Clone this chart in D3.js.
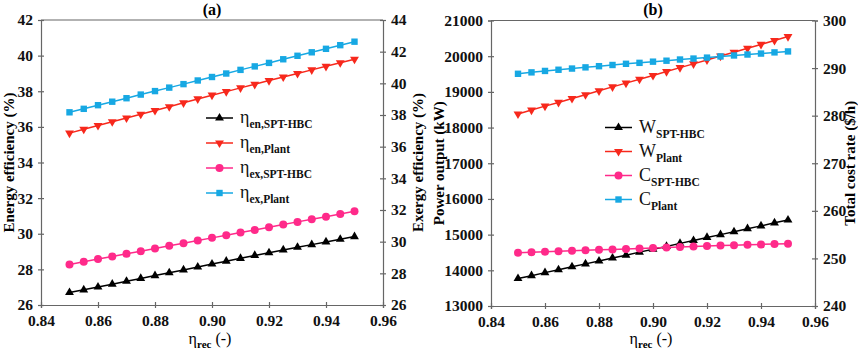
<!DOCTYPE html>
<html>
<head>
<meta charset="utf-8">
<script src="https://cdn.jsdelivr.net/npm/d3@7"></script>
<style>
  body { margin: 0; background: #fff; }
</style>
</head>
<body>
<svg id="svg"></svg>
<script>
// x values (receiver efficiency)
const etaRec = [0.850, 0.855, 0.860, 0.865, 0.870, 0.875, 0.880, 0.885, 0.890, 0.895,
                0.900, 0.905, 0.910, 0.915, 0.920, 0.925, 0.930, 0.935, 0.940, 0.945, 0.950];
const xTicks = [0.84, 0.86, 0.88, 0.90, 0.92, 0.94, 0.96];

// panel (a): energy (left axis) and exergy (right axis) efficiency, %
const etaEnHBC   = [26.70, 26.85, 27.01, 27.17, 27.33, 27.49, 27.65, 27.81, 27.97, 28.13, 28.30,
                    28.46, 28.62, 28.78, 28.93, 29.09, 29.24, 29.39, 29.54, 29.69, 29.84];
const etaEnPlant = [35.65, 35.87, 36.08, 36.29, 36.50, 36.71, 36.92, 37.13, 37.35, 37.57, 37.78,
                    37.98, 38.19, 38.39, 38.60, 38.80, 39.00, 39.20, 39.40, 39.60, 39.80];
const etaExHBC   = [28.56, 28.73, 28.90, 29.06, 29.23, 29.40, 29.57, 29.74, 29.90, 30.07, 30.24,
                    30.41, 30.58, 30.74, 30.91, 31.08, 31.25, 31.42, 31.58, 31.75, 31.92];
const etaExPlant = [38.17, 38.39, 38.62, 38.84, 39.06, 39.29, 39.51, 39.73, 39.95, 40.18, 40.40,
                    40.62, 40.85, 41.07, 41.29, 41.52, 41.74, 41.96, 42.18, 42.41, 42.63];

// panel (b): power output kW (left axis) and total cost rate $/h (right axis)
const wHBC   = [13770, 13850, 13935, 14015, 14100, 14180, 14260, 14345, 14425, 14510, 14590,
                14670, 14755, 14835, 14920, 15000, 15080, 15165, 15245, 15330, 15410];
const wPlant = [18380, 18490, 18600, 18705, 18815, 18920, 19030, 19140, 19245, 19355, 19460,
                19570, 19680, 19785, 19895, 20005, 20110, 20220, 20330, 20440, 20550];
const cHBC   = [251.2, 251.3, 251.4, 251.5, 251.6, 251.7, 251.8, 251.9, 252.0, 252.1, 252.2,
                252.3, 252.4, 252.5, 252.6, 252.7, 252.75, 252.85, 252.95, 253.05, 253.1];
const cPlant = [288.8, 289.1, 289.4, 289.65, 289.9, 290.15, 290.4, 290.65, 290.9, 291.1, 291.35,
                291.55, 291.8, 292.0, 292.2, 292.45, 292.65, 292.85, 293.05, 293.3, 293.5];

const leftTicksA  = [26, 28, 30, 32, 34, 36, 38, 40, 42];
const rightTicksA = [26, 28, 30, 32, 34, 36, 38, 40, 42, 44];
const leftTicksB  = [13000, 14000, 15000, 16000, 17000, 18000, 19000, 20000, 21000];
const rightTicksB = [240, 250, 260, 270, 280, 290, 300];

const colors = { black: "#000000", red: "#f7281c", pink: "#ff2a8a", cyan: "#17a8e3" };
const FONT = "'Liberation Serif', 'Times New Roman', Times, serif";

const W = 858, H = 352;
const svg = d3.select("#svg").attr("width", W).attr("height", H);

function marker(g, type, x, y, color) {
  if (type === "circle") {
    g.append("circle").attr("cx", x).attr("cy", y).attr("r", 4).attr("fill", color);
  } else if (type === "square") {
    g.append("rect").attr("x", x - 3.2).attr("y", y - 3.2).attr("width", 6.4).attr("height", 6.4).attr("fill", color);
  } else {
    let sym = d3.symbol().type(d3.symbolTriangle).size(34);
    g.append("path").attr("d", sym())
      .attr("transform", `translate(${x},${y})` + (type === "down" ? " rotate(180)" : ""))
      .attr("fill", color);
  }
}

function subText(g, x, y, main, sub) {
  let t = g.append("text").attr("x", x).attr("y", y).style("font-size", "18px").attr("fill", "#111");
  t.append("tspan").text(main);
  t.append("tspan").attr("dy", 5).style("font-size", "11.5px").style("font-weight", "bold").text(sub);
}

function styleAxis(a) {
  a.attr("font-family", null).attr("font-size", null);
  a.selectAll(".domain, .tick line").attr("stroke", "#666").attr("stroke-width", 1.2);
  a.selectAll(".tick text").style("font-family", FONT).style("font-weight", "bold")
    .style("font-size", "15.5px").attr("fill", "#111");
}

function drawPanel(p) {
  let g = svg.append("g");
  let x = d3.scaleLinear().domain([0.84, 0.96]).range([p.x0, p.x1]);
  let yL = d3.scaleLinear().domain(p.leftDomain).range([p.y1, p.y0]);
  let yR = d3.scaleLinear().domain(p.rightDomain).range([p.y1, p.y0]);

  // frame top line
  g.append("line").attr("x1", p.x0).attr("x2", p.x1).attr("y1", p.y0).attr("y2", p.y0)
    .attr("stroke", "#666").attr("stroke-width", 1.2);

  let ax = g.append("g").attr("transform", `translate(0,${p.y1})`)
    .call(d3.axisBottom(x).tickValues(xTicks).tickFormat(d3.format(".2f")).tickSizeOuter(0).tickSize(3).tickPadding(7));
  ax.selectAll(".tick").append("line").attr("y2", -3);
  styleAxis(ax);

  let al = g.append("g").attr("transform", `translate(${p.x0},0)`)
    .call(d3.axisLeft(yL).tickValues(p.leftTicks).tickFormat(d3.format("d")).tickSizeOuter(0).tickSize(3).tickPadding(5));
  al.selectAll(".tick").append("line").attr("x2", 3);
  styleAxis(al);

  let ar = g.append("g").attr("transform", `translate(${p.x1},0)`)
    .call(d3.axisRight(yR).tickValues(p.rightTicks).tickFormat(d3.format("d")).tickSizeOuter(0).tickSize(3).tickPadding(5));
  ar.selectAll(".tick").append("line").attr("x2", -3);
  styleAxis(ar);

  // series
  p.series.forEach(s => {
    let y = s.axis === "left" ? yL : yR;
    let line = d3.line().x((d, i) => x(etaRec[i])).y(d => y(d));
    g.append("path").datum(s.values).attr("d", line)
      .attr("fill", "none").attr("stroke", s.color).attr("stroke-width", 1.5);
    s.values.forEach((v, i) => marker(g, s.marker, x(etaRec[i]), y(v), s.color));
  });

  // legend
  p.series.forEach((s, i) => {
    let ly = p.legendY + i * p.legendStep;
    g.append("line").attr("x1", p.legendX).attr("x2", p.legendX + 27).attr("y1", ly).attr("y2", ly)
      .attr("stroke", s.color).attr("stroke-width", 1.5);
    marker(g, s.marker, p.legendX + 13.5, ly, s.color);
    subText(g, p.legendX + 34, ly + 5, s.main, s.sub);
  });

  // titles
  let cx = (p.x0 + p.x1) / 2;
  g.append("text").attr("x", cx).attr("y", 15).attr("text-anchor", "middle")
    .style("font-size", "16px").style("font-weight", "bold").text(p.title);

  let xl = g.append("text").attr("x", cx - 2).attr("y", 344).attr("text-anchor", "middle").style("font-size", "16px");
  xl.append("tspan").text("η");
  xl.append("tspan").attr("dy", 4).style("font-size", "11px").style("font-weight", "bold").text("rec");
  xl.append("tspan").attr("dy", -4).text(" (-)");

  let cy = (p.y0 + p.y1) / 2;
  g.append("text").attr("transform", `translate(${p.leftLabelX},${cy}) rotate(-90)`)
    .attr("text-anchor", "middle").style("font-size", "15px").style("font-weight", "bold").text(p.leftLabel);
  g.append("text").attr("transform", `translate(${p.rightLabelX},${cy}) rotate(-90)`)
    .attr("text-anchor", "middle").style("font-size", "15px").style("font-weight", "bold").text(p.rightLabel);

  g.selectAll("text").style("font-family", FONT);
}

drawPanel({
  x0: 41, x1: 383, y0: 20, y1: 305,
  leftDomain: [26, 42], rightDomain: [26, 44],
  leftTicks: leftTicksA, rightTicks: rightTicksA,
  title: "(a)",
  leftLabel: "Energy efficiency (%)", rightLabel: "Exergy efficiency (%)",
  leftLabelX: 14, rightLabelX: 423,
  legendX: 206, legendY: 118, legendStep: 25,
  series: [
    { values: etaEnHBC,   axis: "left",  color: colors.black, marker: "up",     main: "η", sub: "en,SPT-HBC" },
    { values: etaEnPlant, axis: "left",  color: colors.red,   marker: "down",   main: "η", sub: "en,Plant" },
    { values: etaExHBC,   axis: "right", color: colors.pink,  marker: "circle", main: "η", sub: "ex,SPT-HBC" },
    { values: etaExPlant, axis: "right", color: colors.cyan,  marker: "square", main: "η", sub: "ex,Plant" }
  ]
});

drawPanel({
  x0: 491, x1: 815, y0: 20.5, y1: 306,
  leftDomain: [13000, 21000], rightDomain: [240, 300],
  leftTicks: leftTicksB, rightTicks: rightTicksB,
  title: "(b)",
  leftLabel: "Power output (kW)", rightLabel: "Total cost rate ($/h)",
  leftLabelX: 444, rightLabelX: 855,
  legendX: 605, legendY: 127.5, legendStep: 24,
  series: [
    { values: wHBC,   axis: "left",  color: colors.black, marker: "up",     main: "W", sub: "SPT-HBC" },
    { values: wPlant, axis: "left",  color: colors.red,   marker: "down",   main: "W", sub: "Plant" },
    { values: cHBC,   axis: "right", color: colors.pink,  marker: "circle", main: "C", sub: "SPT-HBC" },
    { values: cPlant, axis: "right", color: colors.cyan,  marker: "square", main: "C", sub: "Plant" }
  ]
});
</script>
</body>
</html>
